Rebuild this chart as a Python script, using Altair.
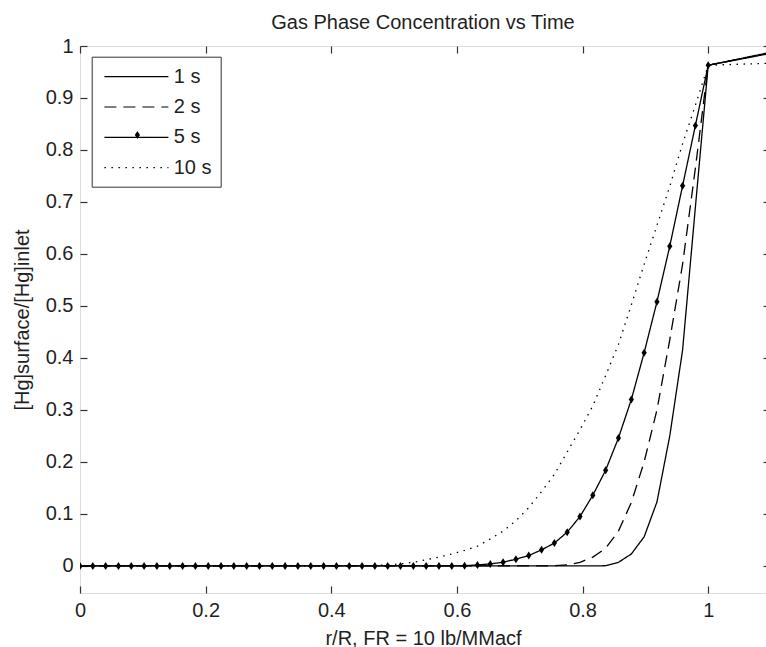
import altair as alt
import pandas as pd

# r/R sample points (50 uniform points from 0 to 1, plus the outer point)
r_values = [0, 0.0204, 0.0408, 0.0612, 0.0816, 0.1020, 0.1224, 0.1429, 0.1633, 0.1837,
            0.2041, 0.2245, 0.2449, 0.2653, 0.2857, 0.3061, 0.3265, 0.3469, 0.3673, 0.3878,
            0.4082, 0.4286, 0.4490, 0.4694, 0.4898, 0.5102, 0.5306, 0.5510, 0.5714, 0.5918,
            0.6122, 0.6327, 0.6531, 0.6735, 0.6939, 0.7143, 0.7347, 0.7551, 0.7755, 0.7959,
            0.8163, 0.8367, 0.8571, 0.8776, 0.8980, 0.9184, 0.9388, 0.9592, 0.9796, 1.0,
            1.1]

conc_1s = [0, 0, 0, 0, 0, 0, 0, 0, 0, 0,
           0, 0, 0, 0, 0, 0, 0, 0, 0, 0,
           0, 0, 0, 0, 0, 0, 0, 0, 0, 0,
           0, 0, 0, 0, 0, 0, 0, 0, 0, 0,
           0, 0.0005, 0.007, 0.023, 0.056, 0.123, 0.25, 0.415, 0.69, 0.963,
           0.988]

conc_2s = [0, 0, 0, 0, 0, 0, 0, 0, 0, 0,
           0, 0, 0, 0, 0, 0, 0, 0, 0, 0,
           0, 0, 0, 0, 0, 0, 0, 0, 0, 0,
           0, 0, 0, 0, 0, 0, 0, 0.0005, 0.002, 0.007,
           0.017, 0.034, 0.067, 0.122, 0.2, 0.3, 0.435, 0.58, 0.765, 0.963,
           0.987]

conc_5s = [0, 0, 0, 0, 0, 0, 0, 0, 0, 0,
           0, 0, 0, 0, 0, 0, 0, 0, 0, 0,
           0, 0, 0, 0, 0, 0, 0, 0, 0, 0,
           0.0005, 0.002, 0.004, 0.007, 0.013, 0.02, 0.031, 0.044, 0.065, 0.095,
           0.136, 0.184, 0.246, 0.32, 0.41, 0.508, 0.615, 0.731, 0.847, 0.963,
           0.986]

conc_10s = [0, 0, 0, 0, 0, 0, 0, 0, 0, 0,
            0, 0, 0, 0, 0, 0, 0, 0, 0, 0,
            0, 0, 0.0005, 0.001, 0.002, 0.004, 0.007, 0.012, 0.017, 0.023,
            0.03, 0.038, 0.052, 0.067, 0.087, 0.112, 0.143, 0.176, 0.219, 0.262,
            0.308, 0.366, 0.426, 0.502, 0.58, 0.655, 0.73, 0.812, 0.886, 0.963,
            0.967]

series_labels = ["1 s", "2 s", "5 s", "10 s"]
series_values = [conc_1s, conc_2s, conc_5s, conc_10s]
marker_series = ["5 s"]

x_ticks = [0, 0.2, 0.4, 0.6, 0.8, 1]
y_ticks = [0, 0.1, 0.2, 0.3, 0.4, 0.5, 0.6, 0.7, 0.8, 0.9, 1]

rows = []
for lab, vals in zip(series_labels, series_values):
    for r, v in zip(r_values, vals):
        rows.append({"r": r, "value": v, "series": lab})
df = pd.DataFrame(rows)

FONT = "Liberation Sans"
TXT = "#1f1f1f"
AX = "#333333"
FS = 20
DIAMOND = "M0,-1L0.65,0L0,1L-0.65,0Z"
LEGEND_LINE = "M-0.73,0L5.67,0"

x_scale = alt.Scale(domain=[0, 1.092], nice=False, zero=False)
y_scale = alt.Scale(domain=[-0.052, 1], nice=False, zero=False)

x_bottom = alt.Axis(orient="bottom", values=x_ticks, format="~g", offset=-7, tickSize=7,
                    domain=False, grid=False, tickColor=AX, tickWidth=1.2,
                    labelFont=FONT, labelFontSize=FS, labelColor=TXT, labelPadding=7,
                    labelFlush=False, labelOverlap=False,
                    title="r/R, FR = 10 lb/MMacf", titleFont=FONT, titleFontSize=FS,
                    titleFontWeight="normal", titleColor=TXT, titlePadding=8)
y_left = alt.Axis(orient="left", values=y_ticks, format="~g", offset=-7, tickSize=7,
                  domain=False, grid=False, tickColor=AX, tickWidth=1.2,
                  labelFont=FONT, labelFontSize=FS, labelColor=TXT, labelPadding=7,
                  labelFlush=False, labelOverlap=False,
                  title="[Hg]surface/[Hg]inlet", titleFont=FONT, titleFontSize=FS,
                  titleFontWeight="normal", titleColor=TXT, titlePadding=13)
x_top = alt.Axis(orient="top", values=x_ticks, offset=-7, tickSize=7, domain=False,
                 grid=False, labels=False, title=None, tickColor=AX, tickWidth=1.2)
y_right = alt.Axis(orient="right", values=y_ticks, offset=-3, tickSize=7, domain=False,
                   grid=False, labels=False, title=None, tickColor=AX, tickWidth=1.2)

lines = alt.Chart(df).mark_line(color="black", strokeWidth=1.3, clip=True).encode(
    x=alt.X("r:Q", scale=x_scale, axis=x_bottom),
    y=alt.Y("value:Q", scale=y_scale, axis=y_left),
    strokeDash=alt.StrokeDash(
        "series:N",
        scale=alt.Scale(domain=series_labels,
                        range=[[1, 0], [12, 7], [1, 0], [1.5, 5.5]]),
        legend=alt.Legend(orient="none", legendX=11.7, legendY=10.7, title=None,
                          symbolType=LEGEND_LINE, symbolSize=400, symbolStrokeWidth=1.2,
                          symbolStrokeColor="black",
                          labelFont=FONT, labelFontSize=FS, labelColor=TXT, labelOffset=51,
                          strokeColor=AX, fillColor="white", padding=9, rowPadding=9.3),
    ),
)

markers = alt.Chart(df).transform_filter(alt.datum.series == "5 s").mark_point(
    filled=True, color="black", size=64, opacity=1, clip=True
).encode(
    x=alt.X("r:Q", scale=x_scale, axis=x_bottom),
    y=alt.Y("value:Q", scale=y_scale, axis=y_left),
    shape=alt.Shape(
        "series:N",
        scale=alt.Scale(domain=marker_series, range=[DIAMOND]),
        legend=alt.Legend(orient="none", legendX=53.4, legendY=85, title=None,
                          symbolSize=64, symbolFillColor="black",
                          symbolStrokeWidth=0, labelOpacity=0, labelExpr="''",
                          labelFontSize=1, labelOffset=0, padding=0, zindex=2),
    ),
)

data_layer = alt.layer(lines, markers)

tick_layer = alt.Chart(df).mark_point(opacity=0).encode(
    x=alt.X("r:Q", scale=x_scale, axis=x_top),
    y=alt.Y("value:Q", scale=y_scale, axis=y_right),
)

chart = alt.layer(data_layer, tick_layer).resolve_scale(
    x="independent", y="independent"
).properties(
    width=686, height=547,
    autosize=alt.AutoSizeParams(type="none"),
    padding={"left": 80, "top": 46, "right": 0, "bottom": 54},
    title=alt.TitleParams("Gas Phase Concentration vs Time", font=FONT, fontSize=FS,
                          fontWeight="normal", color=TXT, anchor="middle", frame="group",
                          baseline="bottom", offset=-17),
).configure_view(stroke=AX, strokeWidth=1.5).configure(background="white")

chart.save("out.html", embed_options={"renderer": "svg", "actions": False})
